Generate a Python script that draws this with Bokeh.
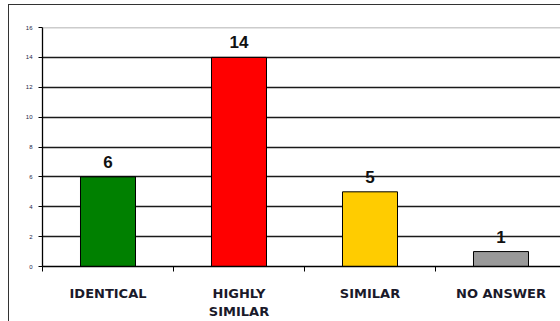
from bokeh.plotting import figure
from bokeh.models import Range1d, FixedTicker, Span, ColumnDataSource, LabelSet
from bokeh.core.properties import value
from bokeh.embed import file_html
from bokeh.resources import INLINE

categories = ["IDENTICAL", "HIGHLY\nSIMILAR", "SIMILAR", "NO ANSWER"]
values = [6, 14, 5, 1]
colors = ["#008000", "#FF0000", "#FFCC00", "#999999"]
y_ticks = [0, 2, 4, 6, 8, 10, 12, 14, 16]

n = len(categories)
centers = [i + 0.5 for i in range(n)]
cat_w_px = 131.0
frame_w = 518

p = figure(width=551, height=316, output_backend="svg", toolbar_location=None,
           x_range=Range1d(0, frame_w / cat_w_px), y_range=Range1d(0, 16),
           min_border_left=33, min_border_top=22, min_border_bottom=54, min_border_right=0)
p.margin = (5, 0, 0, 9)
p.styles = {"outline": "1.5px solid #333333"}
p.outline_line_color = None
p.background_fill_color = "white"
p.border_fill_color = "white"

src = ColumnDataSource(dict(x=centers, top=values, color=colors, label=[str(v) for v in values]))
p.vbar(x="x", top="top", bottom=0, width=0.42, fill_color="color", line_color="black",
       line_width=1, source=src)

p.add_layout(LabelSet(x="x", y="top", text="label", source=src, text_align="center",
                      text_baseline="bottom", y_offset=9, text_font=value("Liberation Sans"),
                      text_font_style="bold", text_font_size="17px", text_color="#111111"))

# grid
p.xgrid.visible = False
p.ygrid.ticker = FixedTicker(ticks=[t for t in y_ticks if 0 < t < 16])
p.ygrid.grid_line_color = "#1a1a1a"
p.ygrid.grid_line_width = 1.3
p.add_layout(Span(location=y_ticks[-1], dimension="width", line_color="#999999", line_width=1.5))

# x axis
xa = p.xaxis[0]
xa.ticker = FixedTicker(ticks=centers, minor_ticks=list(range(n + 1)))
xa.major_label_overrides = {c: lab for c, lab in zip(centers, categories)}
xa.major_tick_out = 0
xa.major_tick_in = 0
xa.minor_tick_out = 5
xa.minor_tick_in = 0
xa.minor_tick_line_color = "black"
xa.axis_line_color = "black"
xa.axis_line_width = 1.3
xa.major_label_standoff = 14
xa.major_label_text_font = "DejaVu Sans"
xa.major_label_text_font_style = "bold"
xa.major_label_text_font_size = "13px"
xa.major_label_text_color = "#1a1a2a"

# y axis
ya = p.yaxis[0]
ya.ticker = FixedTicker(ticks=y_ticks)
ya.minor_tick_line_color = None
ya.major_tick_out = 4
ya.major_tick_in = 0
ya.axis_line_color = "black"
ya.axis_line_width = 1.3
ya.major_label_standoff = 6
ya.major_label_text_font_size = "6px"
ya.major_label_text_font = "Liberation Sans"
ya.major_label_text_color = "#222244"

open("out.html", "w").write(file_html(p, INLINE))
